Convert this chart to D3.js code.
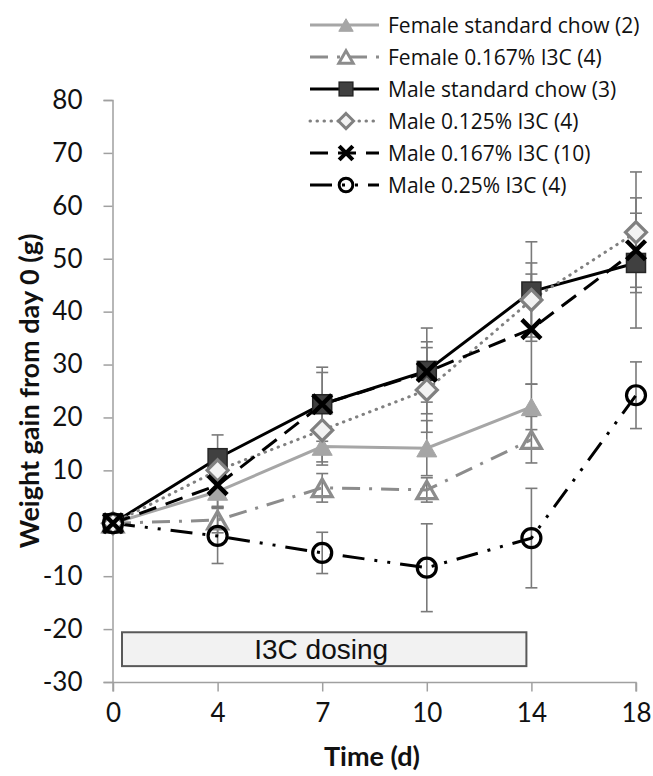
<!DOCTYPE html>
<html>
<head>
<meta charset="utf-8">
<script src="https://cdn.jsdelivr.net/npm/d3@7"></script>
<style>
  body { margin: 0; background: #fff; }
  svg { display: block; }
</style>
</head>
<body>
<svg id="chart" width="653" height="776"></svg>
<script>
// data
const days = ["0", "4", "7", "10", "14", "18"];
const seriesNames = [
  "Female standard chow (2)",
  "Female 0.167% I3C (4)",
  "Male standard chow (3)",
  "Male 0.125% I3C (4)",
  "Male 0.167% I3C (10)",
  "Male 0.25% I3C (4)"
];
const femaleChow = [0, 6, 14.5, 14.2, 22, null];
const femaleChowErr = [0, 3, 3.5, 5.2, 4.3, null];
const female167 = [0, 0.6, 6.7, 6.3, 15.8, null];
const female167Err = [0, 2.4, 2.7, 2.3, 4.4, null];
const maleChow = [0, 12.3, 22.5, 28.8, 43.8, 49.2];
const maleChowErr = [0, 4.4, 7, 8.1, 9.4, 12.3];
const male125 = [0, 10, 17.6, 25.2, 42.2, 55];
const male125Err = [0, 3.5, 6, 8, 7, 11.4];
const male167 = [0, 7.2, 22.5, 28.6, 36.7, 51.6];
const male167Err = [0, 4, 6, 5.7, 10.4, 7];
const male25 = [0, -2.4, -5.6, -8.4, -2.8, 24.2];
const male25Err = [0, 5.2, 3.9, 8.3, 9.4, 6.3];
const yTicks = [-30, -20, -10, 0, 10, 20, 30, 40, 50, 60, 70, 80];
const dosingLabel = "I3C dosing";

const series = [
  { name: seriesNames[0], values: femaleChow, err: femaleChowErr, color: "#a6a6a6", dash: null, marker: "triFill" },
  { name: seriesNames[1], values: female167, err: female167Err, color: "#8c8c8c", dash: "18,9,3,9", marker: "triOpen" },
  { name: seriesNames[2], values: maleChow, err: maleChowErr, color: "#000", dash: null, marker: "square" },
  { name: seriesNames[3], values: male125, err: male125Err, color: "#808080", dash: "0.5,6.5", marker: "diamond" },
  { name: seriesNames[4], values: male167, err: male167Err, color: "#000", dash: "18,10", marker: "cross" },
  { name: seriesNames[5], values: male25, err: male25Err, color: "#000", dash: "22,10,3,10,3,10", marker: "circle" }
];

const svg = d3.select("#chart");
const font = "Lato, 'Open Sans', sans-serif";
const legendFont = "'Open Sans', Lato, sans-serif";

const x = d3.scalePoint().domain(days).range([113, 636]);
const y = d3.scaleLinear().domain([-30, 80]).range([682, 100]);

// axes
const yAxis = svg.append("g")
  .attr("transform", "translate(112.5,0)")
  .call(d3.axisLeft(y).tickValues(yTicks).tickSize(9).tickPadding(21).tickFormat(d => String(d)));
const xAxis = svg.append("g")
  .attr("transform", "translate(0,682.5)")
  .call(d3.axisBottom(x).tickSize(9).tickPadding(12));
[xAxis, yAxis].forEach(g => {
  g.select(".domain").attr("stroke", "#a0a0a0").attr("stroke-width", 1.5);
  g.selectAll(".tick line").attr("stroke", "#a0a0a0").attr("stroke-width", 1.5);
  g.selectAll(".tick text").attr("fill", "#111").style("font-family", font).style("font-size", "26px");
});
// extend x axis line to the last tick
xAxis.select(".domain").attr("d", `M${x("0")},9V0H${x("18")}V9`);

// dosing box
svg.append("rect")
  .attr("x", x("0") + 9).attr("y", y(-20.6))
  .attr("width", x("14") - 5 - x("0") - 9).attr("height", y(-27) - y(-20.6))
  .attr("fill", "#f2f2f2").attr("stroke", "#595959").attr("stroke-width", 2);
svg.append("text")
  .attr("x", (x("0") + x("14")) / 2 - 1).attr("y", y(-25.6))
  .attr("text-anchor", "middle")
  .style("font-family", "'Liberation Sans', Arial, sans-serif").style("font-size", "28px")
  .attr("fill", "#111")
  .text(dosingLabel);

// error bars
const errG = svg.append("g");
series.forEach(s => {
  s.values.forEach((v, i) => {
    const e = s.err[i];
    if (v == null || !e) return;
    const cx = x(days[i]);
    errG.append("line").attr("x1", cx).attr("x2", cx).attr("y1", y(v - e)).attr("y2", y(v + e))
      .attr("stroke", "#7a7a7a").attr("stroke-width", 1.6);
    [v - e, v + e].forEach(t => {
      errG.append("line").attr("x1", cx - 6).attr("x2", cx + 6).attr("y1", y(t)).attr("y2", y(t))
        .attr("stroke", "#7a7a7a").attr("stroke-width", 1.6);
    });
  });
});

// lines
const line = d3.line()
  .defined(d => d.v != null)
  .x(d => x(d.day))
  .y(d => y(d.v));
series.forEach(s => {
  const pts = s.values.map((v, i) => ({ day: days[i], v }));
  svg.append("path")
    .datum(pts)
    .attr("d", line)
    .attr("fill", "none")
    .attr("stroke", s.color)
    .attr("stroke-width", 3)
    .attr("stroke-dasharray", s.dash)
    .attr("stroke-linecap", s.marker === "diamond" ? "round" : "butt");
});

// marker drawing
function drawMarker(g, type, cx, cy, k) {
  const r = 10 * k;
  const sw = 3.2 * Math.min(1, k + 0.2);
  if (type === "triFill" || type === "triOpen") {
    const h = r * 1.75;
    const p = `M${cx},${cy - h / 2}L${cx + r},${cy + h / 2}L${cx - r},${cy + h / 2}Z`;
    if (type === "triFill") g.append("path").attr("d", p).attr("fill", "#a6a6a6").attr("stroke", "#a6a6a6").attr("stroke-width", 1);
    else g.append("path").attr("d", p).attr("fill", "none").attr("stroke", "#8c8c8c").attr("stroke-width", sw);
  } else if (type === "square") {
    g.append("rect").attr("x", cx - r * 0.95).attr("y", cy - r * 0.95).attr("width", r * 1.9).attr("height", r * 1.9)
      .attr("fill", "#404040").attr("stroke", "#262626").attr("stroke-width", 1.5);
  } else if (type === "diamond") {
    const d = r * 1.05;
    g.append("path").attr("d", `M${cx},${cy - d}L${cx + d},${cy}L${cx},${cy + d}L${cx - d},${cy}Z`)
      .attr("fill", "#f2f2f2").attr("stroke", "#808080").attr("stroke-width", sw);
  } else if (type === "cross") {
    const d = r * 0.95;
    g.append("path").attr("d", `M${cx - d},${cy - d}L${cx + d},${cy + d}M${cx + d},${cy - d}L${cx - d},${cy + d}`)
      .attr("stroke", "#000").attr("stroke-width", 4.5 * Math.min(1, k + 0.2));
  } else if (type === "circle") {
    g.append("circle").attr("cx", cx).attr("cy", cy).attr("r", r * 0.95)
      .attr("fill", "none").attr("stroke", "#000").attr("stroke-width", sw);
  }
}

const markG = svg.append("g");
series.forEach(s => {
  s.values.forEach((v, i) => {
    if (v == null) return;
    drawMarker(markG, s.marker, x(days[i]), y(v), 1);
  });
});

// legend
const legend = svg.append("g");
series.forEach((s, i) => {
  const ly = 25 + i * 32;
  legend.append("line").attr("x1", 310).attr("x2", 379).attr("y1", ly).attr("y2", ly)
    .attr("stroke", s.color).attr("stroke-width", 3)
    .attr("stroke-dasharray", s.dash)
    .attr("stroke-linecap", s.marker === "diamond" ? "round" : "butt");
  drawMarker(legend, s.marker, 346, ly, 0.72);
  legend.append("text").attr("x", 388).attr("y", ly + 7.5)
    .style("font-family", legendFont).style("font-size", "21px").attr("fill", "#111")
    .text(s.name);
});

// axis titles
svg.append("text")
  .attr("transform", "translate(39,391) rotate(-90)")
  .attr("text-anchor", "middle")
  .style("font-family", font).style("font-size", "27px").style("font-weight", "bold")
  .attr("fill", "#111")
  .text("Weight gain from day 0 (g)");
svg.append("text")
  .attr("x", 372).attr("y", 766)
  .attr("text-anchor", "middle")
  .style("font-family", font).style("font-size", "27px").style("font-weight", "bold")
  .attr("fill", "#111")
  .text("Time (d)");
</script>
</body>
</html>
